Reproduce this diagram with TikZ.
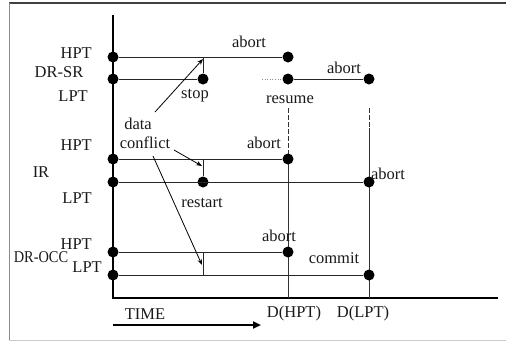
\documentclass[tikz,border=0pt]{standalone}
\usepackage{fontspec}
\setmainfont{Liberation Serif}
\usetikzlibrary{arrows.meta}
\begin{document}
\begin{tikzpicture}[x=1pt,y=-1pt,
  dot/.style={circle,fill=black,inner sep=0pt,minimum size=11pt},
  lbl/.style={font=\fontsize{16.5}{18}\selectfont,inner sep=0pt,text=black!90},
  tline/.style={line width=0.9pt,black!85},
  vline/.style={line width=0.7pt,black!80},
  arr/.style={line width=0.8pt,-{Stealth[length=6pt,width=4.5pt]}},
  frame/.style={line width=0.6pt,black!45}]
\useasboundingbox (0,0) rectangle (506,341);
% frame
\draw[line width=1.6pt,black!75] (9,3) -- (506,3);
\draw[frame] (9,3) -- (9,340);
\draw[line width=0.6pt,black!20] (9,340) -- (506,340);
% axes
\coordinate (ax0) at (113,15);
\coordinate (ax1) at (113,298);
\coordinate (ax2) at (498,298);
\draw[line width=1.1pt] (ax0) -- (ax1) -- (ax2);
% D(HPT), D(LPT) verticals
\coordinate (dh0) at (288,108);
\coordinate (dh1) at (288,165);
\coordinate (dh2) at (288,298);
\coordinate (dl0) at (369,108);
\coordinate (dl1) at (369,128);
\coordinate (dl2) at (369,298);
\draw[vline,dash pattern=on 5pt off 2pt] (dh0) -- (dh1);
\draw[vline] (dh1) -- (dh2);
\draw[vline,dash pattern=on 5pt off 2pt] (dl0) -- (dl1);
\draw[vline] (dl1) -- (dl2);
% DR-SR
\node[dot] (a1) at (113,57) {};
\node[dot] (a2) at (288,57) {};
\node[dot] (b1) at (113,79) {};
\node[dot] (b2) at (203,79) {};
\node[dot] (b3) at (288,79) {};
\node[dot] (b4) at (369,79) {};
\coordinate (aj) at (203,57);
\coordinate (bd0) at (262,79);
\draw[tline] (a1) -- (a2);
\draw[tline] (b1) -- (b2);
\draw[tline] (aj) -- (b2);
\draw[line width=0.6pt,black!45,dotted] (bd0) -- (b3);
\draw[tline] (b3) -- (b4);
% IR
\node[dot] (c1) at (113,159) {};
\node[dot] (c2) at (288,159) {};
\node[dot] (d1) at (113,182) {};
\node[dot] (d2) at (203,182) {};
\node[dot] (d3) at (369,182) {};
\coordinate (cj) at (203,159);
\draw[tline] (c1) -- (c2);
\draw[tline] (d1) -- (d3);
\draw[tline] (cj) -- (d2);
% DR-OCC
\node[dot] (e1) at (113,252) {};
\node[dot] (e2) at (288,252) {};
\node[dot] (f1) at (113,275) {};
\node[dot] (f2) at (369,275) {};
\coordinate (ej) at (203,252);
\coordinate (fj) at (203,275);
\draw[tline] (e1) -- (e2);
\draw[tline] (f1) -- (f2);
\draw[tline] (ej) -- (fj);
% data conflict arrows
\coordinate (s1) at (155,112);
\coordinate (t1) at (203,59);
\coordinate (s2) at (174,150);
\coordinate (t2) at (202,166);
\coordinate (s3) at (153,156);
\coordinate (t3) at (202,265);
\draw[arr] (s1) -- (t1);
\draw[arr] (s2) -- (t2);
\draw[arr] (s3) -- (t3);
% time arrow
\coordinate (ta) at (113,325);
\coordinate (tb) at (261,325);
\draw[line width=2.4pt,-{Triangle[length=8pt,width=7pt]}] (ta) -- (tb);
% labels
\node[lbl,anchor=east] (l1) at (92,53) {HPT};
\node[lbl] (l2) at (59,72) {DR-SR};
\node[lbl,anchor=east] (l3) at (88,96) {LPT};
\node[lbl,anchor=east] (l4) at (92,145) {HPT};
\node[lbl] (l5) at (41,172) {IR};
\node[lbl,anchor=east] (l6) at (92,198) {LPT};
\node[lbl,anchor=east] (l7) at (92,244) {HPT};
\node[lbl,xscale=0.87] (l8) at (41,257) {DR-OCC};
\node[lbl,anchor=east] (l9) at (102,267) {LPT};
\node[lbl] (m1) at (249,42) {abort};
\node[lbl] (m2) at (344,68) {abort};
\node[lbl] (m3) at (195,96) {stop};
\node[lbl] (m4) at (290,100) {resume};
\node[lbl] (m5) at (138,124) {data};
\node[lbl] (m6) at (145,143) {conflict};
\node[lbl] (m7) at (264,143) {abort};
\node[lbl] (m8) at (388,174) {abort};
\node[lbl] (m9) at (202,203) {restart};
\node[lbl] (m10) at (279,236) {abort};
\node[lbl] (m11) at (334,258) {commit};
\node[lbl] (m12) at (145,314) {TIME};
\node[lbl] (m13) at (294,314) {D(HPT)};
\node[lbl] (m14) at (363,314) {D(LPT)};
\end{tikzpicture}
\end{document}
